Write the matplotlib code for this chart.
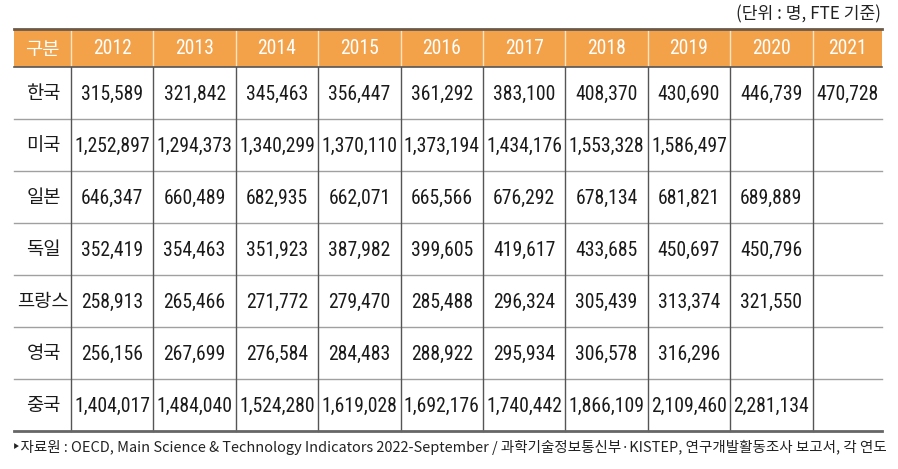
import matplotlib
matplotlib.use("Agg")
import matplotlib.pyplot as plt
from matplotlib import font_manager as fm
from matplotlib.patches import Rectangle

years = ["2012", "2013", "2014", "2015", "2016", "2017", "2018", "2019", "2020", "2021"]
countries = ["한국", "미국", "일본", "독일", "프랑스", "영국", "중국"]
korea   = [315589, 321842, 345463, 356447, 361292, 383100, 408370, 430690, 446739, 470728]
usa     = [1252897, 1294373, 1340299, 1370110, 1373194, 1434176, 1553328, 1586497, None, None]
japan   = [646347, 660489, 682935, 662071, 665566, 676292, 678134, 681821, 689889, None]
germany = [352419, 354463, 351923, 387982, 399605, 419617, 433685, 450697, 450796, None]
france  = [258913, 265466, 271772, 279470, 285488, 296324, 305439, 313374, 321550, None]
uk      = [256156, 267699, 276584, 284483, 288922, 295934, 306578, 316296, None, None]
china   = [1404017, 1484040, 1524280, 1619028, 1692176, 1740442, 1866109, 2109460, 2281134, None]
rows = [korea, usa, japan, germany, france, uk, china]
unit_note = "(단위 : 명, FTE 기준)"
source_note = "‣자료원 : OECD, Main Science & Technology Indicators 2022-September / 과학기술정보통신부·KISTEP, 연구개발활동조사 보고서, 각 연도"
corner = "구분"

W, H = 898, 469
fig = plt.figure(figsize=(W / 100, H / 100), dpi=100)
ax = fig.add_axes([0, 0, 1, 1])
ax.set_xlim(0, W)
ax.set_ylim(H, 0)
ax.axis("off")

# pick the narrowest available sans for numbers
avail = {(f.name, f.stretch) for f in fm.fontManager.ttflist}
names = {n for n, s in avail}
num_family = "Liberation Sans"
num_stretch = "normal"
for cand in ["Liberation Sans Narrow", "Roboto Condensed", "Open Sans Condensed"]:
    if cand in names:
        num_family = cand
        break
else:
    if ("DejaVu Sans", "condensed") in avail or ("DejaVu Sans", "semi-condensed") in avail:
        num_family = "DejaVu Sans"
        num_stretch = "condensed"
num_font = [num_family, "Noto Sans CJK KR", "DejaVu Sans"]
kr_font = ["Noto Sans CJK KR", "DejaVu Sans"]

renderer = fig.canvas.get_renderer()
probe = ax.text(0, 0, "1,404,017", fontsize=15, family=num_font, fontstretch=num_stretch)
wpx = probe.get_window_extent(renderer).width
probe.remove()
num_size = min(15.5, 15 * 75.0 / wpx)

# column edges
x0 = 14
label_w = 57
col_w = 82.4
xs = [x0, x0 + label_w]
for i in range(len(years)):
    xs.append(xs[-1] + col_w)
xs[-1] = 882
top = 29
head_h = 38
row_h = 52
y_head_bot = top + head_h
y_bot = y_head_bot + row_h * len(countries)

orange = "#F3A24A"
ax.add_patch(Rectangle((xs[0], top), xs[-1] - xs[0], head_h, facecolor=orange, edgecolor="none", zorder=1))
ax.plot([xs[0], xs[-1]], [top, top], color="#6b5a4a", lw=2.0, zorder=3)

# header texts
ax.text((xs[0] + xs[1]) / 2, top + head_h / 2 + 1, corner, ha="center", va="center",
        color="white", fontsize=13.5, family=kr_font, zorder=4)
for i, yr in enumerate(years):
    cx = (xs[i + 1] + xs[i + 2]) / 2
    ax.text(cx, top + head_h / 2 + 1, yr, ha="center", va="center", color="white",
            fontsize=num_size, family=num_font, fontstretch=num_stretch, zorder=4)
# header separators
for x in xs[1:-1]:
    ax.plot([x, x], [top + 1, y_head_bot], color="#fbe3c4", lw=1.0, zorder=2)

# body horizontal lines
ax.plot([xs[0], xs[-1]], [y_head_bot, y_head_bot], color="#555555", lw=1.2, zorder=3)
for r in range(1, len(countries)):
    y = y_head_bot + r * row_h
    ax.plot([xs[0], xs[-1]], [y, y], color="#a0a0a0", lw=1.0, zorder=2)
ax.plot([xs[0], xs[-1]], [y_bot, y_bot], color="#666666", lw=2.0, zorder=3)
# body vertical lines
for x in xs[1:-1]:
    ax.plot([x, x], [y_head_bot, y_bot], color="#555555", lw=1.0, zorder=2)

for r, (name, vals) in enumerate(zip(countries, rows)):
    cy = y_head_bot + r * row_h + row_h / 2 + 1
    ax.text((xs[0] + xs[1]) / 2 + 1, cy, name, ha="center", va="center", color="#1a1a1a",
            fontsize=13.5, family=kr_font)
    for i, v in enumerate(vals):
        if v is None:
            continue
        cx = (xs[i + 1] + xs[i + 2]) / 2
        ax.text(cx, cy, f"{v:,}", ha="center", va="center", color="#1a1a1a",
                fontsize=num_size, family=num_font, fontstretch=num_stretch)

ax.text(xs[-1] - 1, 14, unit_note, ha="right", va="center", color="#222222",
        fontsize=12.3, family=kr_font)
ax.text(xs[0] - 2, 447, source_note, ha="left", va="center", color="#222222",
        fontsize=10.45, family=kr_font)

fig.savefig("out.png", dpi=100)
